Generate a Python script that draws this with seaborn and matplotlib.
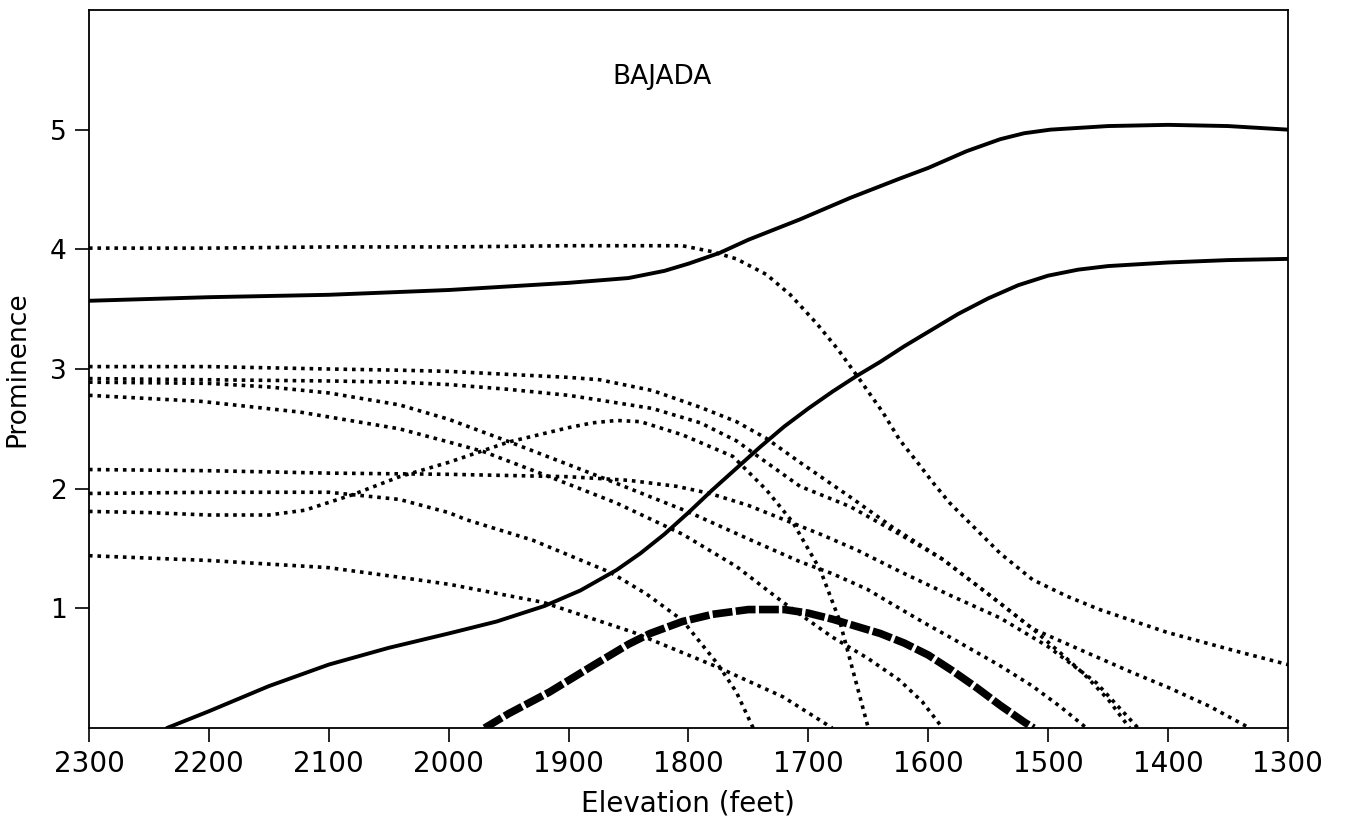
import matplotlib
matplotlib.use("Agg")
import matplotlib.pyplot as plt
import seaborn as sns
import pandas as pd

# ---------------- data ----------------
solid_upper_x = [2300, 2200, 2100, 2000, 1950, 1900, 1850, 1820, 1800, 1774, 1750, 1707, 1665, 1624, 1600, 1568, 1540, 1520, 1498, 1450, 1400, 1350, 1300]
solid_upper_y = [3.57, 3.60, 3.62, 3.66, 3.69, 3.72, 3.76, 3.82, 3.88, 3.97, 4.08, 4.25, 4.43, 4.59, 4.68, 4.82, 4.92, 4.97, 5.00, 5.03, 5.04, 5.03, 5.00]

solid_lower_x = [2235, 2200, 2150, 2100, 2050, 2000, 1960, 1920, 1890, 1860, 1840, 1820, 1800, 1780, 1760, 1740, 1720, 1700, 1680, 1660, 1640, 1620, 1600, 1575, 1550, 1525, 1500, 1475, 1450, 1400, 1350, 1300]
solid_lower_y = [0.0, 0.14, 0.35, 0.53, 0.67, 0.79, 0.89, 1.02, 1.15, 1.32, 1.46, 1.62, 1.80, 1.99, 2.17, 2.35, 2.52, 2.67, 2.81, 2.94, 3.06, 3.19, 3.31, 3.46, 3.59, 3.70, 3.78, 3.83, 3.86, 3.89, 3.91, 3.92]

hatched_x = [1970, 1950, 1916, 1880, 1850, 1832, 1805, 1780, 1750, 1720, 1700, 1680, 1660, 1640, 1620, 1600, 1580, 1560, 1540, 1520, 1512]
hatched_y = [0.0, 0.12, 0.30, 0.52, 0.70, 0.79, 0.89, 0.95, 0.99, 0.99, 0.96, 0.91, 0.85, 0.79, 0.71, 0.61, 0.48, 0.34, 0.19, 0.05, 0.0]

dot_a_x = [2300, 2200, 2100, 2000, 1900, 1850, 1805, 1780, 1760, 1735, 1715, 1693, 1675, 1657, 1638, 1624, 1609, 1596, 1582, 1568, 1554, 1540, 1513, 1484, 1457, 1401, 1346, 1300]
dot_a_y = [4.01, 4.01, 4.02, 4.02, 4.03, 4.03, 4.03, 3.98, 3.92, 3.79, 3.62, 3.38, 3.16, 2.91, 2.64, 2.41, 2.22, 2.05, 1.88, 1.74, 1.60, 1.46, 1.24, 1.10, 0.99, 0.80, 0.65, 0.53]

dot_b_x = [2300, 2200, 2100, 2041, 2000, 1900, 1874, 1830, 1790, 1760, 1735, 1707, 1665, 1630, 1588, 1550, 1513, 1470, 1429, 1400, 1365, 1332]
dot_b_y = [3.02, 3.02, 3.00, 2.99, 2.98, 2.93, 2.91, 2.82, 2.68, 2.56, 2.42, 2.22, 1.93, 1.68, 1.41, 1.12, 0.83, 0.64, 0.46, 0.34, 0.18, 0.0]

dot_c_x = [2300, 2200, 2100, 2041, 2000, 1950, 1900, 1874, 1830, 1790, 1760, 1735, 1707, 1665, 1624, 1588, 1550, 1513, 1490, 1470, 1450, 1432]
dot_c_y = [2.92, 2.91, 2.90, 2.89, 2.87, 2.83, 2.78, 2.74, 2.67, 2.55, 2.40, 2.22, 2.02, 1.85, 1.62, 1.41, 1.12, 0.83, 0.63, 0.45, 0.24, 0.0]

dot_d_x = [2300, 2200, 2150, 2100, 2041, 2000, 1949, 1874, 1801, 1750, 1707, 1680, 1651, 1624, 1600, 1582, 1568, 1540, 1513, 1490, 1468]
dot_d_y = [2.89, 2.88, 2.85, 2.80, 2.70, 2.58, 2.39, 2.10, 1.81, 1.58, 1.39, 1.29, 1.16, 1.00, 0.86, 0.76, 0.68, 0.52, 0.35, 0.18, 0.0]

dot_e_x = [2300, 2207, 2124, 2041, 2000, 1971, 1916, 1860, 1805, 1760, 1721, 1680, 1650, 1624, 1605, 1588]
dot_e_y = [2.78, 2.73, 2.64, 2.50, 2.39, 2.31, 2.10, 1.88, 1.62, 1.35, 1.05, 0.76, 0.58, 0.40, 0.22, 0.0]

dot_f_x = [2300, 2250, 2200, 2150, 2120, 2080, 2041, 2000, 1950, 1900, 1880, 1860, 1840, 1805, 1763, 1735, 1713, 1690, 1674, 1650]
dot_f_y = [1.81, 1.80, 1.78, 1.78, 1.82, 1.95, 2.10, 2.22, 2.39, 2.51, 2.55, 2.57, 2.56, 2.45, 2.27, 1.99, 1.72, 1.32, 0.90, 0.0]

dot_g_x = [2300, 2200, 2100, 2000, 1900, 1850, 1810, 1782, 1750, 1720, 1690, 1660, 1624, 1582, 1540, 1500, 1460, 1425]
dot_g_y = [2.16, 2.15, 2.13, 2.12, 2.10, 2.07, 2.02, 1.96, 1.86, 1.74, 1.62, 1.49, 1.31, 1.11, 0.92, 0.68, 0.38, 0.0]

dot_h_x = [2300, 2200, 2100, 2041, 2000, 1985, 1930, 1865, 1835, 1805, 1776, 1760, 1746]
dot_h_y = [1.96, 1.97, 1.97, 1.91, 1.80, 1.74, 1.57, 1.30, 1.12, 0.90, 0.54, 0.30, 0.0]

dot_i_x = [2300, 2200, 2100, 2041, 1999, 1921, 1846, 1776, 1721, 1680]
dot_i_y = [1.44, 1.40, 1.34, 1.26, 1.20, 1.05, 0.80, 0.51, 0.26, 0.0]

x_ticks = [2300, 2200, 2100, 2000, 1900, 1800, 1700, 1600, 1500, 1400, 1300]
y_ticks = [1, 2, 3, 4, 5]
title_text = "BAJADA"
x_label = "Elevation (feet)"
y_label = "Prominence"

# ---------------- plotting ----------------
sns.set_theme(style="white")
plt.rcParams["font.family"] = ["DejaVu Sans"]
plt.rcParams["text.color"] = "black"
plt.rcParams["axes.labelcolor"] = "black"

fig = plt.figure(figsize=(13.5, 8.17), dpi=100)
ax = fig.add_axes([0.0659, 0.1089, 0.954 - 0.0659, 0.9878 - 0.1089])

dotted = [(dot_a_x, dot_a_y), (dot_b_x, dot_b_y), (dot_c_x, dot_c_y), (dot_d_x, dot_d_y),
          (dot_e_x, dot_e_y), (dot_f_x, dot_f_y), (dot_g_x, dot_g_y), (dot_h_x, dot_h_y),
          (dot_i_x, dot_i_y)]
for xs, ys in dotted:
    df = pd.DataFrame({"x": xs, "y": ys})
    sns.lineplot(data=df, x="x", y="y", ax=ax, sort=False, color="black",
                 lw=2.6, linestyle=(0, (1.0, 1.35)), dash_capstyle="butt", estimator=None)

for xs, ys in [(solid_upper_x, solid_upper_y), (solid_lower_x, solid_lower_y)]:
    df = pd.DataFrame({"x": xs, "y": ys})
    sns.lineplot(data=df, x="x", y="y", ax=ax, sort=False, color="black", lw=2.8,
                 estimator=None)

dfh = pd.DataFrame({"x": hatched_x, "y": hatched_y})
sns.lineplot(data=dfh, x="x", y="y", ax=ax, sort=False, color="black", lw=5.5,
             linestyle=(0, (2.6, 0.45)), dash_capstyle="butt", estimator=None)

ax.set_xlim(2300, 1300)
ax.set_ylim(0, 6)
ax.set_xticks(x_ticks)
ax.set_xticklabels([str(t) for t in x_ticks], fontsize=20, color="black")
ax.set_yticks(y_ticks)
ax.set_yticklabels([str(t) for t in y_ticks], fontsize=19, color="black")
ax.tick_params(axis="both", direction="out", length=10, width=1.2, colors="black", pad=6)
ax.tick_params(axis="x", bottom=True)
ax.tick_params(axis="y", left=True)
for s in ax.spines.values():
    s.set_visible(True)
    s.set_color("black")
    s.set_linewidth(1.3)

ax.set_xlabel(x_label, fontsize=20, labelpad=8, color="black")
ax.set_ylabel(y_label, fontsize=19, labelpad=14, color="black")
ax.text(1822, 5.44, title_text, fontsize=19, ha="center", va="center", color="black")
ax.grid(False)

fig.savefig("out.png", dpi=100, facecolor="white")
